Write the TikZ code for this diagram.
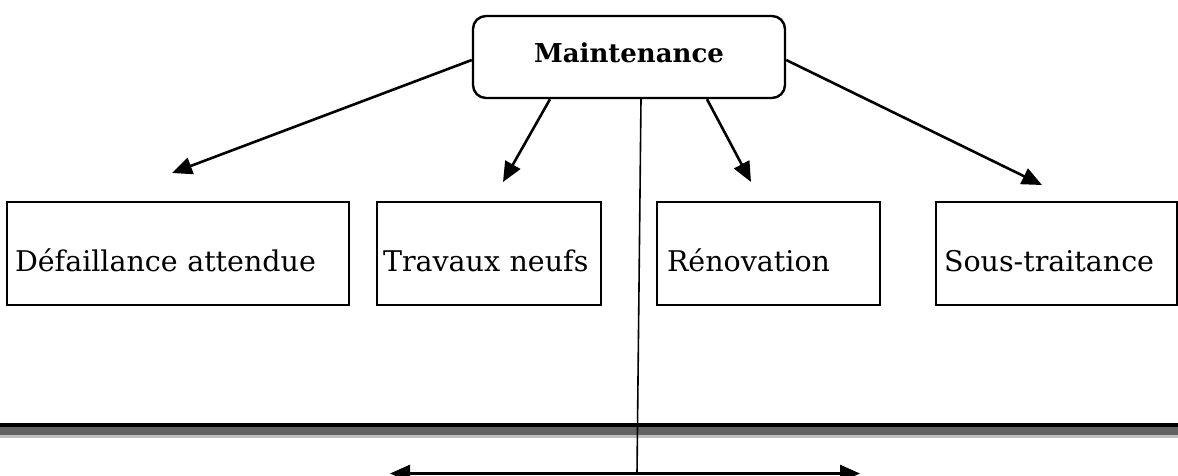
\documentclass[tikz,border=0pt]{standalone}
\usepackage{fontspec}
\setmainfont{DejaVu Serif}
\usetikzlibrary{arrows.meta}
\begin{document}
\begin{tikzpicture}[x=1pt,y=-1pt,
  arr/.style={line width=2.6pt,-{Triangle[length=20pt,width=17pt]}},
  catbox/.style={draw,line width=2.4pt,minimum height=103pt,inner xsep=0pt,
    text height=35pt,text depth=0pt,align=left,font=\fontsize{28.5}{32}\selectfont},
  mainbox/.style={draw,line width=2.4pt,rounded corners=13pt,minimum width=312pt,
    minimum height=82pt,text height=15pt,text depth=5pt,font=\bfseries\fontsize{26}{30}\selectfont}]
\useasboundingbox (0,0) rectangle (1178,475);
\node[mainbox] (main) at (629,57) {Maintenance};
\node[catbox,minimum width=342pt,text width=326pt] (b1) at (178,253.5) {Défaillance attendue};
\node[catbox,minimum width=224pt,text width=212pt] (b2) at (489,253.5) {Travaux neufs};
\node[catbox,minimum width=223pt,text width=203pt] (b3) at (768.5,253.5) {Rénovation};
\node[catbox,minimum width=241pt,text width=225pt] (b4) at (1056.5,253.5) {Sous-traitance};
\coordinate (t1) at (172,173);
\coordinate (t2) at (503,182);
\coordinate (t3) at (751,182);
\coordinate (t4) at (1042,185);
\coordinate (vb) at (637,473.5);
\coordinate (lt) at (390,473.5);
\coordinate (rt) at (860,473.5);
\draw[arr] ([yshift=-3pt]main.west) -- (t1);
\draw[arr] ([xshift=-79pt]main.south) -- (t2);
\draw[arr] ([xshift=78pt]main.south) -- (t3);
\draw[arr] ([yshift=-3pt]main.east) -- (t4);
% horizontal bar
\fill[black] (0,423.3) rectangle (1178,426.7);
\fill[black!61] (0,426.7) rectangle (1178,435);
\fill[black!25] (0,435) rectangle (1178,437.7);
\draw[line width=1.6pt] ([xshift=12pt]main.south) -- (vb);
\draw[arr] (vb) -- (lt);
\draw[arr] (vb) -- (rt);
\end{tikzpicture}
\end{document}
